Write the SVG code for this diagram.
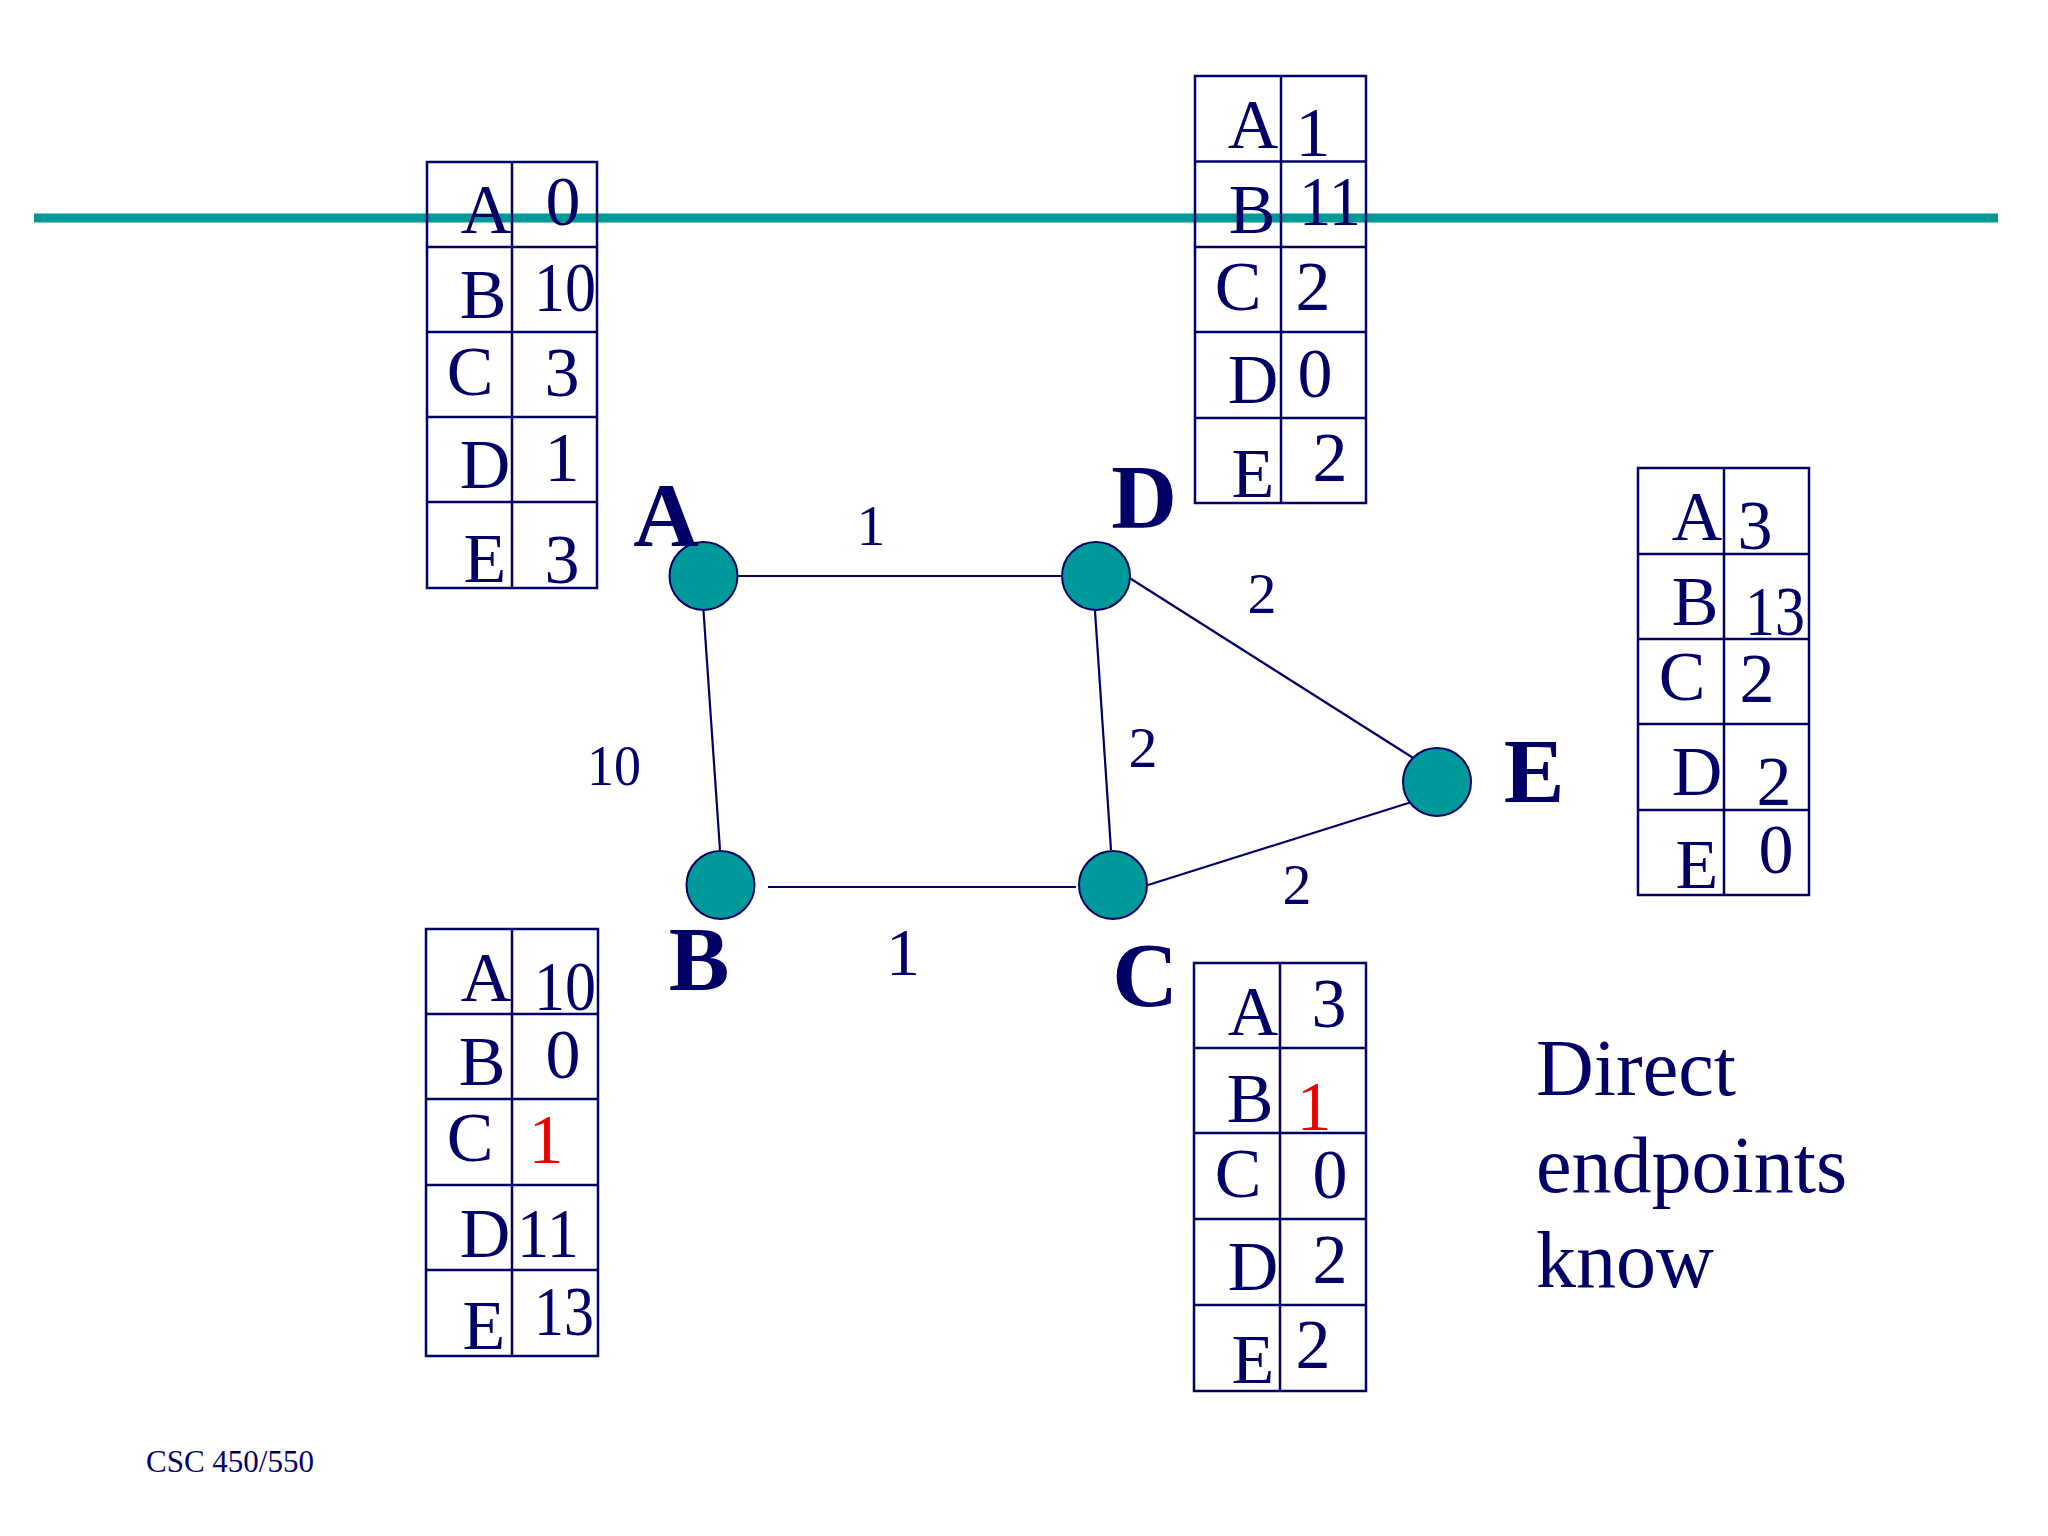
<svg xmlns="http://www.w3.org/2000/svg" width="2048" height="1536" viewBox="0 0 2048 1536">
<style>
.bg{fill:#ffffff}
.tbl{fill:none;stroke:#000066;stroke-width:2.5}
.t{font-family:"Liberation Serif","Times New Roman",serif;font-size:70px;fill:#000066;text-anchor:middle}
.red{fill:#ee0000}
.lbl{font-family:"Liberation Serif","Times New Roman",serif;font-size:58px;fill:#000066;text-anchor:middle}
.nl{font-family:"Liberation Serif","Times New Roman",serif;font-size:91px;font-weight:bold;fill:#000066;text-anchor:middle}
.edge{stroke:#000066;stroke-width:2.2;fill:none}
.node{fill:#009999;stroke:#000066;stroke-width:2}
.note{font-family:"Liberation Serif","Times New Roman",serif;font-size:80px;fill:#000066}
.foot{font-family:"Liberation Serif","Times New Roman",serif;font-size:31px;fill:#000066}
</style>
<rect class="bg" x="0" y="0" width="2048" height="1536"/>
<rect x="34" y="213.5" width="1964" height="9" fill="#009999"/>

<g id="table-A">
<rect class="tbl" x="427" y="162" width="170" height="426"/>
<line class="tbl" x1="512" y1="162" x2="512" y2="588"/>
<line class="tbl" x1="427" y1="247" x2="597" y2="247"/>
<line class="tbl" x1="427" y1="332" x2="597" y2="332"/>
<line class="tbl" x1="427" y1="417" x2="597" y2="417"/>
<line class="tbl" x1="427" y1="502" x2="597" y2="502"/>
<text class="t" x="486" y="233">A</text><text class="t" x="563" y="225">0</text>
<text class="t" x="483" y="318">B</text><text class="t" x="565" y="311" textLength="62" lengthAdjust="spacingAndGlyphs">10</text>
<text class="t" x="470" y="395">C</text><text class="t" x="562" y="396">3</text>
<text class="t" x="485" y="488">D</text><text class="t" x="562" y="481">1</text>
<text class="t" x="485" y="582">E</text><text class="t" x="562" y="583">3</text>
</g>

<g id="table-D">
<rect class="tbl" x="1195" y="76" width="171" height="427"/>
<line class="tbl" x1="1281" y1="76" x2="1281" y2="503"/>
<line class="tbl" x1="1195" y1="161.5" x2="1366" y2="161.5"/>
<line class="tbl" x1="1195" y1="247" x2="1366" y2="247"/>
<line class="tbl" x1="1195" y1="332" x2="1366" y2="332"/>
<line class="tbl" x1="1195" y1="418" x2="1366" y2="418"/>
<text class="t" x="1253" y="148">A</text><text class="t" x="1313" y="156">1</text>
<text class="t" x="1252" y="233">B</text><text class="t" x="1330" y="225" textLength="62" lengthAdjust="spacingAndGlyphs">11</text>
<text class="t" x="1238" y="310">C</text><text class="t" x="1313" y="310">2</text>
<text class="t" x="1253" y="403">D</text><text class="t" x="1315" y="397">0</text>
<text class="t" x="1253" y="497">E</text><text class="t" x="1330" y="481">2</text>
</g>

<g id="table-E">
<rect class="tbl" x="1638" y="468" width="171" height="427"/>
<line class="tbl" x1="1724" y1="468" x2="1724" y2="895"/>
<line class="tbl" x1="1638" y1="554" x2="1809" y2="554"/>
<line class="tbl" x1="1638" y1="639" x2="1809" y2="639"/>
<line class="tbl" x1="1638" y1="724" x2="1809" y2="724"/>
<line class="tbl" x1="1638" y1="810" x2="1809" y2="810"/>
<text class="t" x="1697" y="540">A</text><text class="t" x="1755" y="549">3</text>
<text class="t" x="1695" y="625">B</text><text class="t" x="1775" y="635" textLength="60" lengthAdjust="spacingAndGlyphs">13</text>
<text class="t" x="1682" y="700">C</text><text class="t" x="1757" y="702">2</text>
<text class="t" x="1697" y="795">D</text><text class="t" x="1774" y="805">2</text>
<text class="t" x="1697" y="888">E</text><text class="t" x="1776" y="873">0</text>
</g>

<g id="table-B">
<rect class="tbl" x="426" y="929" width="172" height="427"/>
<line class="tbl" x1="512" y1="929" x2="512" y2="1356"/>
<line class="tbl" x1="426" y1="1014" x2="598" y2="1014"/>
<line class="tbl" x1="426" y1="1099" x2="598" y2="1099"/>
<line class="tbl" x1="426" y1="1185" x2="598" y2="1185"/>
<line class="tbl" x1="426" y1="1270" x2="598" y2="1270"/>
<text class="t" x="486" y="1001">A</text><text class="t" x="565" y="1010" textLength="62" lengthAdjust="spacingAndGlyphs">10</text>
<text class="t" x="482" y="1085">B</text><text class="t" x="563" y="1078">0</text>
<text class="t" x="470" y="1161">C</text><text class="t red" x="546" y="1163">1</text>
<text class="t" x="485" y="1257">D</text><text class="t" x="548" y="1257" textLength="62" lengthAdjust="spacingAndGlyphs">11</text>
<text class="t" x="484" y="1349">E</text><text class="t" x="564" y="1335" textLength="60" lengthAdjust="spacingAndGlyphs">13</text>
</g>

<g id="table-C">
<rect class="tbl" x="1194" y="963" width="172" height="428"/>
<line class="tbl" x1="1280" y1="963" x2="1280" y2="1391"/>
<line class="tbl" x1="1194" y1="1048" x2="1366" y2="1048"/>
<line class="tbl" x1="1194" y1="1133" x2="1366" y2="1133"/>
<line class="tbl" x1="1194" y1="1219" x2="1366" y2="1219"/>
<line class="tbl" x1="1194" y1="1305" x2="1366" y2="1305"/>
<text class="t" x="1253" y="1035">A</text><text class="t" x="1329" y="1027">3</text>
<text class="t" x="1250" y="1122">B</text><text class="t red" x="1314" y="1130">1</text>
<text class="t" x="1238" y="1197">C</text><text class="t" x="1330" y="1198">0</text>
<text class="t" x="1253" y="1290">D</text><text class="t" x="1330" y="1283">2</text>
<text class="t" x="1253" y="1383">E</text><text class="t" x="1313" y="1368">2</text>
</g>

<g id="connectors">
<line class="edge" x1="737" y1="576" x2="1062" y2="576"/>
<line class="edge" x1="703.5" y1="611" x2="720" y2="850"/>
<line class="edge" x1="1095" y1="611" x2="1111" y2="850"/>
<line class="edge" x1="1128" y1="577" x2="1418" y2="761"/>
<line class="edge" x1="768" y1="887" x2="1076" y2="887"/>
<line class="edge" x1="1148" y1="885" x2="1418" y2="800"/>
<text class="lbl" x="871" y="545">1</text>
<text class="lbl" x="1262" y="613">2</text>
<text class="lbl" x="614" y="785" textLength="54" lengthAdjust="spacingAndGlyphs">10</text>
<text class="lbl" x="1143" y="767">2</text>
<text class="lbl" x="1297" y="904">2</text>
<text class="lbl" x="903" y="975" style="font-size:68px">1</text>
</g>

<g id="node-A"><circle class="node" cx="703.5" cy="576" r="34"/><text class="nl" x="666" y="546">A</text></g>
<g id="node-D"><circle class="node" cx="1096" cy="576" r="34"/><text class="nl" x="1144" y="528">D</text></g>
<g id="node-B"><circle class="node" cx="720.5" cy="885" r="34"/><text class="nl" x="699" y="990">B</text></g>
<g id="node-C"><circle class="node" cx="1113" cy="885" r="34"/><text class="nl" x="1145" y="1006">C</text></g>
<g id="node-E"><circle class="node" cx="1437" cy="782" r="34"/><text class="nl" x="1534" y="802">E</text></g>

<g id="note">
<text class="note" x="1536" y="1095">Direct</text>
<text class="note" x="1536" y="1192">endpoints</text>
<text class="note" x="1536" y="1287">know</text>
</g>
<text class="foot" x="146" y="1472">CSC 450/550</text>
</svg>
